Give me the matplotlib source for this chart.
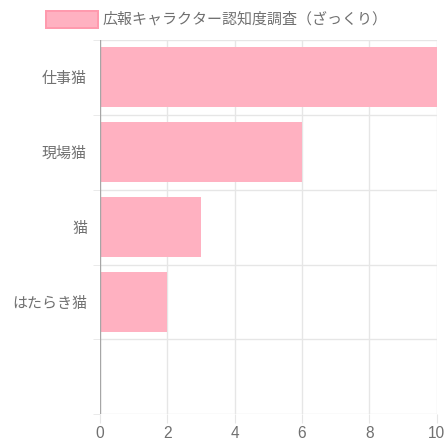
import matplotlib
matplotlib.use("Agg")
import matplotlib.pyplot as plt
from matplotlib.patches import Rectangle

plt.rcParams['font.family'] = ['Noto Sans CJK JP', 'DejaVu Sans']

categories = ["仕事猫", "現場猫", "猫", "はたらき猫", ""]
values = [10, 6, 3, 2, 0]
x_ticks = [0, 2, 4, 6, 8, 10]
legend_label = "広報キャラクター認知度調査（ざっくり）"

fill = "#ffb1c1"
edge = "#ff9aae"
grid = "#e6e6e6"
zero = "#a6a6a6"
text = "#707070"
fs = 10.8

fig = plt.figure(figsize=(4.48, 4.48), dpi=100)
W = H = 448.0
px = 72.0 / 100.0
left, right, top, bottom = 100, 436.5, 40, 414.3
ax = fig.add_axes([left / W, 1 - bottom / H, (right - left) / W, (bottom - top) / H])

n = len(categories)
ypos = list(range(n))
ax.barh(ypos, values, height=0.8, color=fill, edgecolor="none", zorder=2)

ax.set_xlim(0, 10)
ax.set_ylim(n - 0.5, -0.5)

for s in ax.spines.values():
    s.set_visible(False)

for xv in x_ticks:
    c = zero if xv == 0 else grid
    ax.axvline(xv, color=c, lw=1, zorder=3 if xv == 0 else 1)
for i in range(n + 1):
    ax.axhline(i - 0.5, color=grid, lw=1, zorder=1)

ax.set_xticks(x_ticks)
ax.set_xticklabels([str(v) for v in x_ticks], family=['Liberation Sans', 'DejaVu Sans'])
ax.tick_params(axis='x', length=9 * px, color=grid, labelcolor=text, labelsize=11.2, pad=3 * px)

ax.set_yticks(ypos)
ax.set_yticklabels(categories)
ax.set_yticks([i - 0.5 for i in range(n + 1)], minor=True)
ax.tick_params(axis='y', which='major', length=0, labelcolor=text, labelsize=fs, pad=13 * px)
ax.tick_params(axis='y', which='minor', length=7 * px, color=grid)

fig.patches.append(Rectangle((46 / W, 1 - 28 / H), 52 / W, 17 / H, transform=fig.transFigure,
                             facecolor=fill, edgecolor=edge, lw=2 * px))
fig.text(103 / W, 1 - 19.5 / H, legend_label, color=text, fontsize=fs, va='center', ha='left')

fig.savefig("out.png", dpi=100)
